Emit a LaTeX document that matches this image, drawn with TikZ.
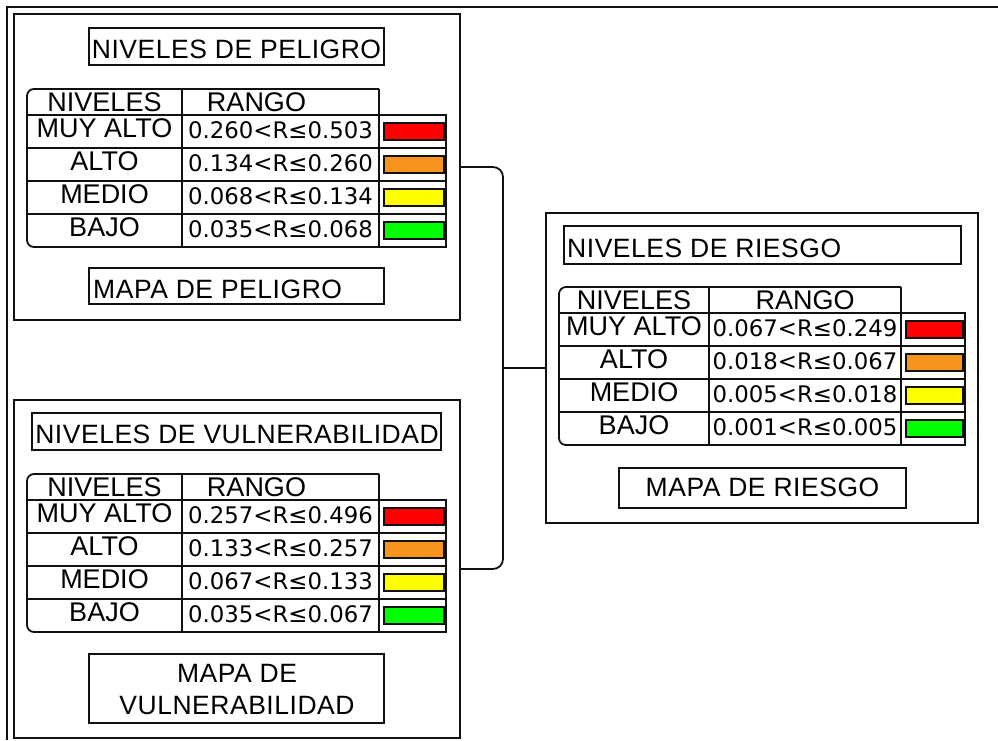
\documentclass[tikz,border=0pt]{standalone}
\usepackage{fontspec}
\setmainfont{Liberation Sans}
\newfontfamily\rangefont{DejaVu Sans}
\newfontfamily\titlefont[LetterSpace=2]{Liberation Sans}
\definecolor{cRed}{HTML}{FF0000}
\definecolor{cOrange}{HTML}{F7941D}
\definecolor{cYellow}{HTML}{FFFF00}
\definecolor{cGreen}{HTML}{00FF00}
\definecolor{ink}{HTML}{111111}
\tikzset{
  box/.style={draw=ink, line width=1.9pt, inner sep=0pt, outer sep=0pt, anchor=north west},
  tbl/.style={draw=ink, line width=1.8pt},
  lab/.style={anchor=base, inner sep=0pt, font=\fontsize{27}{30}\selectfont},
  rng/.style={anchor=base, inner sep=0pt, font=\rangefont\fontsize{22.8}{26}\selectfont},
  ttl/.style={inner sep=0pt, font=\titlefont\fontsize{26.5}{30}\selectfont},
  sw/.style={draw=ink, line width=1.6pt},
  conn/.style={draw=ink, line width=1.8pt},
}
% one row of a table: #1 prefix, #2 index, #3 label, #4 range, #5 colour
\newcommand\rrow[5]{%
  \pgfmathsetmacro\rt{26+33*#2}%
  \node[lab] (#1-l#2) at (\cA/2, \rt+22) {#3};
  \node[rng] (#1-r#2) at ({\cA+(\cB-\cA)/2}, \rt+23) {#4};
  \node[sw, fill=#5, inner sep=0pt, minimum width={(\cC-\cB-7)*1pt}, minimum height=17pt, anchor=north west]
     (#1-s#2) at (\cB+4, \rt+7) {};
}
% table: #1 prefix, #2 x0, #3 y0, #4 col1 width, #5 col2 width, #6-#9 ranges
\newcommand\rtable[9]{%
  \begin{scope}[shift={(#2,#3)}]
    \pgfmathsetmacro\cA{#4}%
    \pgfmathsetmacro\cB{#4+#5}%
    \pgfmathsetmacro\cC{#4+#5+\cthree}%
    \draw[tbl, rounded corners=7] (\cB,0) -- (0,0) -- (0,158) -- (\cB,158);
    \draw[tbl] (\cB,26) rectangle (\cC,158);
    \draw[tbl] (\cA,0) -- (\cA,158);
    \draw[tbl] (\cB,0) -- (\cB,158);
    \foreach \yy in {26,59,92,125} {\draw[tbl] (0,\yy) -- (\cC,\yy);}
    \node[lab] (#1-hn) at (\cA/2, 22) {NIVELES};
    \node[lab] (#1-hr) at ({\cA+(\cB-\cA)/2+\rangoshift}, 22) {RANGO};
    \rrow{#1}{0}{MUY ALTO}{#6}{cRed}
    \rrow{#1}{1}{ALTO}{#7}{cOrange}
    \rrow{#1}{2}{MEDIO}{#8}{cYellow}
    \rrow{#1}{3}{BAJO}{#9}{cGreen}
  \end{scope}%
}
\begin{document}
\begin{tikzpicture}[x=1pt, y=-1pt]
  \useasboundingbox (0,0) rectangle (998,740);
  % outer frame lines
  \draw[ink, line width=2.2pt] (998,7) -- (7,7) -- (7,740);

  % ---------- PELIGRO ----------
  \node[box, minimum width=446pt, minimum height=306pt] (peligro) at (14,14) {};
  \node[box, minimum width=295pt, minimum height=37pt] (peligroT) at (89,28) {};
  \node[ttl, anchor=base] (peligroTt) at (236.5,58) {NIVELES DE PELIGRO};
  \def\cthree{67}\def\rangoshift{-24}
  \rtable{tp}{27}{89}{155}{197}{0.260<R≤0.503}{0.134<R≤0.260}{0.068<R≤0.134}{0.035<R≤0.068}
  \node[box, minimum width=295pt, minimum height=36pt] (peligroM) at (89,268) {};
  \node[ttl, anchor=base west] (peligroMt) at (93,298) {MAPA DE PELIGRO};

  % ---------- VULNERABILIDAD ----------
  \node[box, minimum width=446pt, minimum height=338pt] (vuln) at (14,400) {};
  \node[box, minimum width=409pt, minimum height=37pt] (vulnT) at (32,413) {};
  \node[ttl, anchor=base] (vulnTt) at (237,443) {NIVELES DE VULNERABILIDAD};
  \rtable{tv}{27}{474}{155}{197}{0.257<R≤0.496}{0.133<R≤0.257}{0.067<R≤0.133}{0.035<R≤0.067}
  \node[box, minimum width=295pt, minimum height=69pt] (vulnM) at (89,654) {};
  \node[ttl, align=center, font=\titlefont\fontsize{26.5}{32}\selectfont] (vulnMt) at (237,689) {MAPA DE\\VULNERABILIDAD};

  % ---------- RIESGO ----------
  \node[box, minimum width=432pt, minimum height=310pt] (riesgo) at (546,213) {};
  \node[box, minimum width=397pt, minimum height=38pt] (riesgoT) at (564,226) {};
  \node[ttl, anchor=base west] (riesgoTt) at (567,257) {NIVELES DE RIESGO};
  \def\cthree{64}\def\rangoshift{0}
  \rtable{tr}{559}{287}{150}{192}{0.067<R≤0.249}{0.018<R≤0.067}{0.005<R≤0.018}{0.001<R≤0.005}
  \node[box, minimum width=287pt, minimum height=40pt] (riesgoM) at (619,468) {};
  \node[ttl, anchor=base] (riesgoMt) at (762.5,496) {MAPA DE RIESGO};

  % ---------- connectors ----------
  \coordinate (j) at (503,368);
  \draw[conn, rounded corners=10] (peligro.east) -| (j) |- (vuln.east);
  \draw[conn] (j) -- (riesgo.west);
\end{tikzpicture}
\end{document}
